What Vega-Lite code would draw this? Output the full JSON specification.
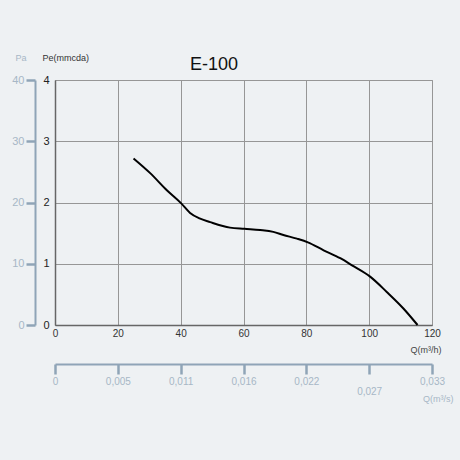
{
  "$schema": "https://vega.github.io/schema/vega-lite/v6.json",
  "autosize": "none",
  "width": 377,
  "height": 245,
  "padding": {"left": 55, "top": 80, "right": 28, "bottom": 135},
  "background": "#eef1f3",
  "title": {
    "text": "E-100",
    "anchor": "start",
    "frame": "group",
    "dx": 135,
    "dy": 30,
    "offset": 9,
    "fontSize": 18,
    "fontWeight": "normal",
    "font": "Liberation Sans",
    "color": "#111"
  },
  "data": {
    "values": [
      {"q": 25, "pe": 2.72},
      {"q": 30.3, "pe": 2.48},
      {"q": 35.6, "pe": 2.2},
      {"q": 40.1, "pe": 1.99},
      {"q": 43, "pe": 1.83},
      {"q": 46, "pe": 1.74},
      {"q": 49.4, "pe": 1.68},
      {"q": 55.7, "pe": 1.59},
      {"q": 60.3, "pe": 1.57},
      {"q": 65.3, "pe": 1.55},
      {"q": 69.5, "pe": 1.52},
      {"q": 72.7, "pe": 1.47},
      {"q": 77, "pe": 1.41},
      {"q": 80.5, "pe": 1.35},
      {"q": 85.5, "pe": 1.22},
      {"q": 90.8, "pe": 1.09},
      {"q": 95, "pe": 0.96},
      {"q": 100.3, "pe": 0.79},
      {"q": 105.6, "pe": 0.54},
      {"q": 110.9, "pe": 0.27},
      {"q": 115.4, "pe": 0.0}
    ]
  },
  "resolve": {"axis": {"x": "independent", "y": "independent"}},
  "layer": [
    {
      "mark": {"type": "line", "color": "#000", "strokeWidth": 2, "interpolate": "monotone"},
      "encoding": {
        "x": {
          "field": "q", "type": "quantitative",
          "scale": {"domain": [0, 120], "nice": false},
          "axis": {
            "orient": "bottom",
            "values": [0, 20, 40, 60, 80, 100, 120],
            "grid": true, "gridColor": "#969696", "gridWidth": 1,
            "domainColor": "#666", "domainWidth": 1.5,
            "ticks": false,
            "labelPadding": 3, "labelFontSize": 10, "labelColor": "#333", "labelFont": "Liberation Sans",
            "labelFlush": false,
            "title": "Q(m³/h)", "titleFont": "Liberation Sans", "titleFontSize": 9, "titleFontWeight": "normal",
            "titleColor": "#444", "titleAlign": "right", "titleBaseline": "middle", "titleAngle": 0,
            "titleX": 386, "titleY": 24
          }
        },
        "y": {
          "field": "pe", "type": "quantitative",
          "scale": {"domain": [0, 4], "nice": false},
          "axis": {
            "orient": "left",
            "values": [0, 1, 2, 3, 4],
            "grid": true, "gridColor": "#969696", "gridWidth": 1,
            "domainColor": "#666", "domainWidth": 1.5,
            "ticks": false,
            "labelPadding": 6, "labelFontSize": 11, "labelColor": "#222", "labelFont": "Liberation Sans",
            "labelFlush": false,
            "title": "Pe(mmcda)", "titleFont": "Liberation Sans", "titleFontSize": 9, "titleFontWeight": "normal",
            "titleColor": "#333", "titleAlign": "left", "titleBaseline": "middle", "titleAngle": 0,
            "titleX": -13, "titleY": -23
          }
        }
      }
    },
    {
      "mark": {"type": "line", "opacity": 0, "interpolate": "monotone"},
      "encoding": {
        "x": {
          "field": "q", "type": "quantitative",
          "axis": {
            "orient": "bottom",
            "offset": 39,
            "values": [0, 20, 40, 60, 80, 100, 120],
            "grid": false,
            "domainColor": "#8fa4b7", "domainWidth": 2,
            "tickColor": "#8fa4b7", "tickWidth": 2.5, "tickSize": 10,
            "labelExpr": "{'0': '0', '20': '0,005', '40': '0,011', '60': '0,016', '80': '0,022', '100': '0,027', '120': '0,033'}[datum.label]",
            "labelPadding": {"condition": {"test": "datum.value == 100", "value": 12}, "value": 2},
            "labelFontSize": 10, "labelColor": "#a7b7c6", "labelFont": "Liberation Sans",
            "labelFlush": false,
            "title": "Q(m³/s)", "titleFont": "Liberation Sans", "titleFontSize": 9, "titleFontWeight": "normal",
            "titleColor": "#a7b7c6", "titleAlign": "right", "titleBaseline": "middle", "titleAngle": 0,
            "titleX": 398, "titleY": 34
          }
        },
        "y": {
          "field": "pe", "type": "quantitative",
          "axis": {
            "orient": "left",
            "offset": 20,
            "values": [0, 1, 2, 3, 4],
            "grid": false,
            "domainColor": "#8fa4b7", "domainWidth": 2,
            "tickColor": "#8fa4b7", "tickWidth": 2.5, "tickSize": 9,
            "labelExpr": "format(datum.value * 10, 'd')",
            "labelPadding": 2, "labelFontSize": 11, "labelColor": "#a7b7c6", "labelFont": "Liberation Sans",
            "labelFlush": false,
            "title": "Pa", "titleFont": "Liberation Sans", "titleFontSize": 9, "titleFontWeight": "normal",
            "titleColor": "#a7b7c6", "titleAlign": "left", "titleBaseline": "middle", "titleAngle": 0,
            "titleX": -20, "titleY": -23
          }
        }
      }
    }
  ],
  "config": {
    "view": {"stroke": "#999", "strokeWidth": 1}
  }
}
